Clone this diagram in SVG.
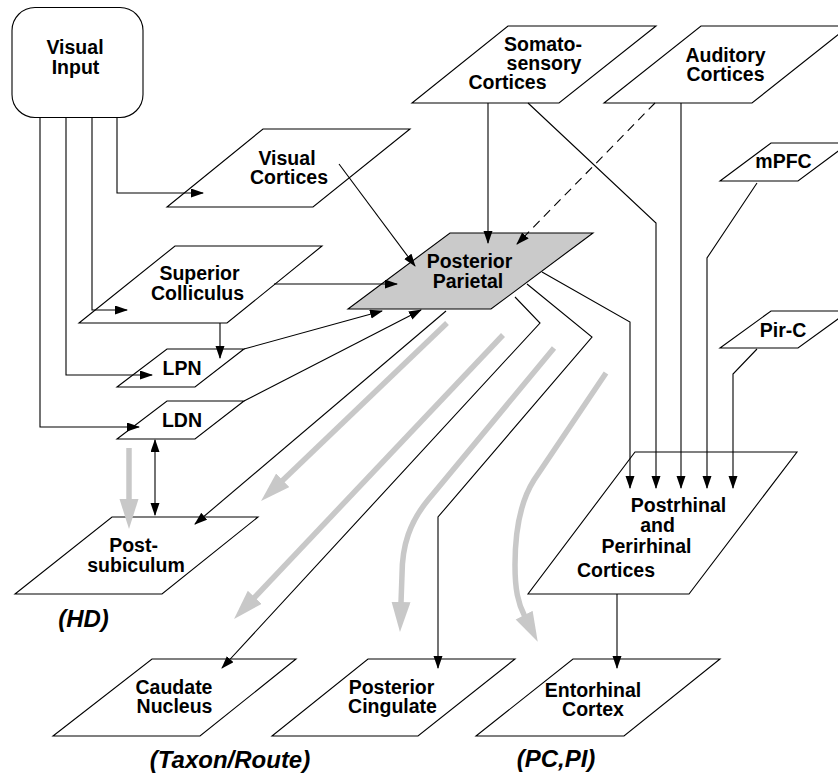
<svg xmlns="http://www.w3.org/2000/svg" width="838" height="778" viewBox="0 0 838 778">
  <defs>
    <style>
      .box { fill: #ffffff; stroke: #000000; stroke-width: 1.1; }
      .hot { fill: #cacaca; stroke: #000000; stroke-width: 1.1; }
      .lbl { font-family: "Liberation Sans", Arial, Helvetica, sans-serif; font-weight: bold; font-size: 19.5px; fill: #000000; text-anchor: middle; }
      .tag { font-family: "Liberation Sans", Arial, Helvetica, sans-serif; font-weight: bold; font-style: italic; font-size: 24px; fill: #000000; text-anchor: middle; }
      .wire { fill: none; stroke: #000000; stroke-width: 1.1; marker-end: url(#tip); }
      .dash { stroke-dasharray: 9 6; }
      .flow { fill: none; stroke: #c8c8c8; stroke-width: 5.5; marker-end: url(#bigtip); }
    </style>
    <marker id="tip" markerUnits="userSpaceOnUse" markerWidth="14" markerHeight="10" refX="12" refY="4.5" orient="auto-start-reverse">
      <path d="M0,0 L13,4.5 L0,9 Z" fill="#000000"/>
    </marker>
    <marker id="bigtip" markerUnits="userSpaceOnUse" markerWidth="32" markerHeight="20" refX="1" refY="9.5" orient="auto">
      <path d="M0,0 L30,9.5 L0,19 Z" fill="#c8c8c8"/>
    </marker>
  </defs>

  <!-- nodes -->
  <g id="visual-input">
    <rect class="box" x="12" y="7.5" width="131" height="110" rx="23" ry="23"/>
    <text class="lbl" x="75" y="54">Visual</text>
    <text class="lbl" x="75.5" y="74">Input</text>
  </g>
  <g id="visual-cortices">
    <polygon class="box" points="263,129 410,129 313,207 167,207"/>
    <text class="lbl" x="287" y="165">Visual</text>
    <text class="lbl" x="289" y="184">Cortices</text>
  </g>
  <g id="somatosensory-cortices">
    <polygon class="box" points="508,26 656,26 559,103 412,103"/>
    <text class="lbl" x="543" y="51">Somato-</text>
    <text class="lbl" x="544" y="70">sensory</text>
    <text class="lbl" x="507.5" y="89">Cortices</text>
  </g>
  <g id="auditory-cortices">
    <polygon class="box" points="701,26 849,26 752,103 604,103"/>
    <text class="lbl" x="725.5" y="62">Auditory</text>
    <text class="lbl" x="725.5" y="81">Cortices</text>
  </g>
  <g id="mpfc">
    <polygon class="box" points="771,143 849,143 798,181 720,181"/>
    <text class="lbl" x="783.5" y="168">mPFC</text>
  </g>
  <g id="pir-c">
    <polygon class="box" points="771,311 849,311 798,348 720,348"/>
    <text class="lbl" x="783" y="337">Pir-C</text>
  </g>
  <g id="posterior-parietal">
    <polygon class="hot" points="450,233 593,233 491,309 348,309"/>
    <text class="lbl" x="469.5" y="268">Posterior</text>
    <text class="lbl" x="468" y="288">Parietal</text>
  </g>
  <g id="superior-colliculus">
    <polygon class="box" points="175,246 322,246 227,323 79,323"/>
    <text class="lbl" x="199.5" y="280">Superior</text>
    <text class="lbl" x="197.5" y="300">Colliculus</text>
  </g>
  <g id="lpn">
    <polygon class="box" points="167,349 244,349 195,387 117,387"/>
    <text class="lbl" x="182" y="375">LPN</text>
  </g>
  <g id="ldn">
    <polygon class="box" points="167,401 244,401 195,439 117,439"/>
    <text class="lbl" x="182" y="427">LDN</text>
  </g>
  <g id="postsubiculum">
    <polygon class="box" points="112,517 258,517 162,594 15,594"/>
    <text class="lbl" x="133.5" y="552">Post-</text>
    <text class="lbl" x="136" y="572">subiculum</text>
  </g>
  <g id="caudate-nucleus">
    <polygon class="box" points="152,659 296,659 200,736 53,736"/>
    <text class="lbl" x="174" y="694">Caudate</text>
    <text class="lbl" x="174.5" y="713">Nucleus</text>
  </g>
  <g id="posterior-cingulate">
    <polygon class="box" points="368,659 515,659 418,736 272,736"/>
    <text class="lbl" x="391.5" y="694">Posterior</text>
    <text class="lbl" x="392.5" y="713">Cingulate</text>
  </g>
  <g id="entorhinal-cortex">
    <polygon class="box" points="573,659 720,659 624,736 476,736"/>
    <text class="lbl" x="593" y="697">Entorhinal</text>
    <text class="lbl" x="593" y="716">Cortex</text>
  </g>
  <g id="postrhinal-perirhinal">
    <polygon class="box" points="635,452 797,452 689,594 528,594"/>
    <text class="lbl" x="678.5" y="512">Postrhinal</text>
    <text class="lbl" x="657.5" y="532">and</text>
    <text class="lbl" x="646.5" y="553">Perirhinal</text>
    <text class="lbl" x="616" y="577">Cortices</text>
  </g>

  <!-- group labels -->
  <g id="labels">
    <text class="tag" x="83.5" y="627">(HD)</text>
    <text class="tag" x="230" y="768">(Taxon/Route)</text>
    <text class="tag" x="556" y="767">(PC,PI)</text>
  </g>

  <!-- connectors -->
  <g id="connectors">
    <!-- broad grey streams -->
    <path class="flow" d="M129,448 V500"/>
    <path class="flow" d="M447,323 L282,481"/>
    <path class="flow" d="M503,335 L254,598"/>
    <path class="flow" d="M554,348 L428,500 C410,522 402,545 402,575 L401,603"/>
    <path class="flow" d="M606,373 L534,480 C520,502 515,530 515,565 C515,590 518,603 524.6,616"/>

    <!-- visual input fan-out -->
    <path class="wire" d="M117,117 V193 H203"/>
    <path class="wire" d="M92,117 V310 H127"/>
    <path class="wire" d="M66,117 V375 H152"/>
    <path class="wire" d="M40,117 V427 H139"/>

    <!-- into posterior parietal -->
    <path class="wire" d="M339,164 L415,266"/>
    <path class="wire" d="M274,284 H397"/>
    <path class="wire" d="M244,349 L382,311"/>
    <path class="wire" d="M244,401 L421,310"/>
    <path class="wire" d="M488,103 V243"/>
    <path class="wire dash" d="M655,103 L517,244"/>

    <!-- thalamic links -->
    <path class="wire" d="M220,323 V358"/>
    <path class="wire" d="M155,440 V515" marker-start="url(#tip)"/>

    <!-- out of posterior parietal -->
    <path class="wire" d="M446,311 L195,524"/>
    <path class="wire" d="M515,297 L540,323 L222,668"/>
    <path class="wire" d="M527,284 L592,337 L438,517 V668"/>
    <path class="wire" d="M542,272 L630,322 V488"/>

    <!-- into postrhinal / perirhinal -->
    <path class="wire" d="M528,103 L656,223 V488"/>
    <path class="wire" d="M681,103 V488"/>
    <path class="wire" d="M757,183 L707,258 V488"/>
    <path class="wire" d="M757,349 L733,374 V488"/>
    <path class="wire" d="M617,594 V668"/>
  </g>
</svg>
